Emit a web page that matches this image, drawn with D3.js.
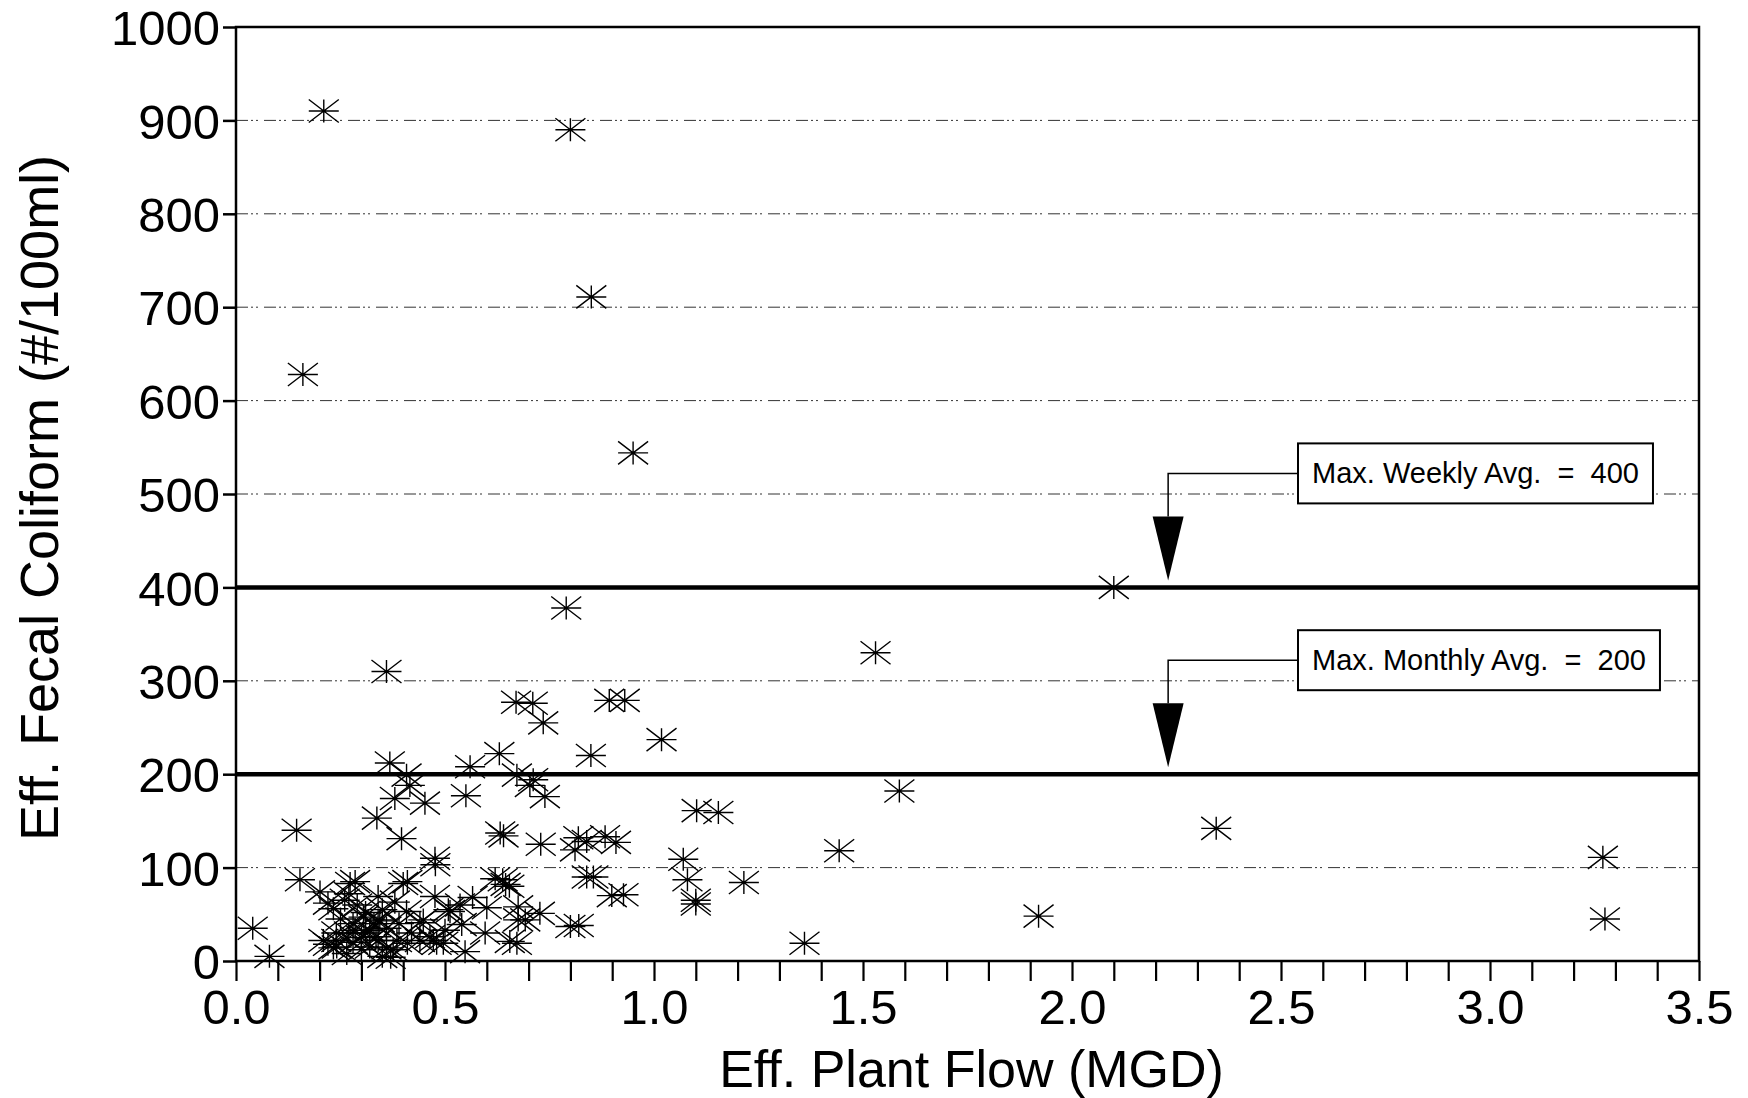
<!DOCTYPE html>
<html>
<head>
<meta charset="utf-8">
<script src="https://cdn.jsdelivr.net/npm/d3@7"></script>
<style>
  body { margin: 0; background: #fff; }
  text { font-family: "Liberation Sans", Arial, Helvetica, sans-serif; fill: #000; }
</style>
</head>
<body>
<div id="chart"></div>
<script>
// values: effluent plant flow (MGD) vs effluent fecal coliform (#/100ml)
const flow = [
  0.04, 0.08, 0.145, 0.153, 0.16, 0.21, 0.80, 0.85, 0.95, 2.10,
  0.79, 1.53, 0.36, 2.345, 3.27, 3.275, 1.92, 1.587, 1.443, 1.36,
  1.215, 1.154, 1.102, 1.07, 1.08, 1.10, 1.10, 1.018, 0.893, 0.93,
  0.849, 0.735, 0.67, 0.71, 0.63, 0.56, 0.55, 0.368, 0.408, 0.416,
  0.38, 0.452, 0.337, 0.396, 0.672, 0.703, 0.739, 0.711, 0.632, 0.64,
  0.729, 0.811, 0.819, 0.883, 0.909, 0.839, 0.839, 0.855, 0.899, 0.927,
  0.80, 0.82, 0.476, 0.477, 0.40, 0.41, 0.654, 0.645, 0.638, 0.62,
  0.476, 0.566, 0.60, 0.675, 0.675, 0.692, 0.727, 0.655, 0.672, 0.596,
  0.548, 0.54, 0.508, 0.536, 0.496, 0.48, 0.50, 0.44, 0.448, 0.464,
  0.472, 0.512,
  0.201, 0.233, 0.273, 0.34, 0.38, 0.305, 0.34, 0.408, 0.209, 0.241,
  0.30, 0.32, 0.34, 0.376, 0.30, 0.265, 0.27, 0.285, 0.31, 0.33,
  0.28, 0.344, 0.24, 0.36, 0.37, 0.385, 0.41, 0.44, 0.27, 0.285,
  0.31, 0.335, 0.233, 0.24, 0.22, 0.26, 0.29, 0.35, 0.36, 0.39,
  0.42, 0.25, 0.22, 0.35, 0.32, 0.28
];
const coliform = [
  35, 5, 140, 87, 628, 910, 890, 711, 544, 400,
  378, 330, 310, 142, 111, 45, 48, 182, 118, 19,
  84, 159, 161, 109, 87, 65, 61, 237, 279, 279,
  220, 255, 277, 276, 222, 208, 177, 212, 199, 188,
  174, 169, 153, 131, 199, 188, 176, 194, 137, 134,
  125, 119, 132, 133, 127, 128, 90, 90, 70, 71,
  37, 38, 110, 103, 83, 85, 80, 82, 87, 88,
  69, 68, 57, 58, 44, 44, 51, 21, 19, 30,
  10, 39, 55, 60, 19, 19, 33, 41, 44, 26,
  22, 53,
  74, 56, 83, 69, 63, 47, 44, 53, 22, 15,
  25, 33, 22, 12, 12, 8, 72, 85, 52, 40,
  40, 43, 30, 14, 4, 22, 19, 22, 30, 33,
  30, 26, 14, 22, 62, 65, 60, 55, 35, 40,
  30, 45, 18, 5, 15, 20
];

const yTicks = [0, 100, 200, 300, 400, 500, 600, 700, 800, 900, 1000];
const xLabelTicks = [0, 0.5, 1.0, 1.5, 2.0, 2.5, 3.0, 3.5];
const gridValues = [100, 300, 500, 600, 700, 800, 900];

// permit limits with their callout text
const limitValues = [400, 200];
const limitLabels = ['Max. Weekly Avg.  =  400', 'Max. Monthly Avg.  =  200'];
const arrowFlow = 2.23;

const width = 1748;
const height = 1098;
const margin = {top: 27, right: 49, bottom: 137, left: 236};

const svg = d3.select('#chart').append('svg')
  .attr('width', width)
  .attr('height', height);

const x = d3.scaleLinear()
  .domain([0, 3.5])
  .range([margin.left, width - margin.right]);

const y = d3.scaleLinear()
  .domain([0, 1000])
  .range([height - margin.bottom, margin.top]);

// dotted grid lines
svg.append('g').selectAll('line')
  .data(gridValues)
  .enter()
  .append('line')
  .attr('x1', x(0))
  .attr('x2', x(3.5))
  .attr('y1', d => y(d))
  .attr('y2', d => y(d))
  .attr('stroke', '#333')
  .attr('stroke-width', 1)
  .attr('stroke-dasharray', '12,3,2,3,2,6');

// limit lines
svg.append('g').selectAll('line')
  .data(limitValues)
  .enter()
  .append('line')
  .attr('x1', x(0))
  .attr('x2', x(3.5))
  .attr('y1', d => y(d))
  .attr('y2', d => y(d))
  .attr('stroke', '#000')
  .attr('stroke-width', 4.5);

// frame
svg.append('rect')
  .attr('x', x(0))
  .attr('y', y(1000))
  .attr('width', x(3.5) - x(0))
  .attr('height', y(0) - y(1000))
  .attr('fill', 'none')
  .attr('stroke', '#000')
  .attr('stroke-width', 2.5);

// y axis
const yAxis = d3.axisLeft(y)
  .tickValues(yTicks)
  .tickSize(13)
  .tickPadding(3)
  .tickFormat(d3.format('d'));

const gy = svg.append('g')
  .attr('transform', `translate(${x(0)},0)`)
  .call(yAxis);
gy.select('.domain').remove();
gy.selectAll('line').attr('stroke-width', 2.5);
gy.selectAll('text')
  .style('font-size', '49px')
  .attr('dy', '0.36em');

// x axis, minor ticks every 0.1 and labels every 0.5
const minorTicks = d3.range(0, 36).map(i => i / 10);
const xAxis = d3.axisBottom(x)
  .tickValues(minorTicks)
  .tickSize(20)
  .tickPadding(8)
  .tickFormat(d => xLabelTicks.some(v => Math.abs(v - d) < 1e-6) ? d3.format('.1f')(d) : '');

const gx = svg.append('g')
  .attr('transform', `translate(0,${y(0)})`)
  .call(xAxis);
gx.select('.domain').remove();
gx.selectAll('line').attr('stroke-width', 2.2);
gx.selectAll('text').style('font-size', '49px');

// asterisk markers
const rx = 15;
const ry = 11.5;
const star = `M${-rx},0H${rx}M0,${-ry}V${ry}M${-rx},${-ry}L${rx},${ry}M${-rx},${ry}L${rx},${-ry}`;

svg.append('g').selectAll('path')
  .data(d3.zip(flow, coliform))
  .enter()
  .append('path')
  .attr('transform', d => `translate(${x(d[0])},${y(d[1])})`)
  .attr('d', star)
  .attr('fill', 'none')
  .attr('stroke', '#000')
  .attr('stroke-width', 1.4);

// callouts
const boxLeft = 1298;
const boxHeight = 60;
const boxOffset = 114;
const headLength = 64;
const headHalf = 15.5;

limitValues.forEach((v, i) => {
  const cy = y(v) - boxOffset;
  const ax = x(arrowFlow);
  const tipY = y(v) - 7;
  const g = svg.append('g');

  g.append('path')
    .attr('d', `M${boxLeft},${cy}H${ax}V${tipY - headLength}`)
    .attr('fill', 'none')
    .attr('stroke', '#000')
    .attr('stroke-width', 1.5);

  g.append('path')
    .attr('d', `M${ax - headHalf},${tipY - headLength}L${ax + headHalf},${tipY - headLength}L${ax},${tipY}Z`)
    .attr('fill', '#000');

  const label = g.append('text')
    .attr('x', boxLeft + 14)
    .attr('y', cy + 10)
    .attr('xml:space', 'preserve')
    .style('white-space', 'pre')
    .style('font-size', '29px')
    .text(limitLabels[i]);

  const w = label.node().getComputedTextLength();
  g.insert('rect', 'text')
    .attr('x', boxLeft)
    .attr('y', cy - boxHeight / 2)
    .attr('width', w + 28)
    .attr('height', boxHeight)
    .attr('fill', '#fff')
    .attr('stroke', '#000')
    .attr('stroke-width', 2);
});

// axis titles
svg.append('text')
  .attr('x', (x(0) + x(3.5)) / 2 + 4)
  .attr('y', 1087)
  .attr('text-anchor', 'middle')
  .style('font-size', '52px')
  .text('Eff. Plant Flow (MGD)');

svg.append('text')
  .attr('transform', `translate(58,${(y(0) + y(1000)) / 2 + 4}) rotate(-90)`)
  .attr('text-anchor', 'middle')
  .style('font-size', '54px')
  .text('Eff. Fecal Coliform (#/100ml)');
</script>
</body>
</html>
